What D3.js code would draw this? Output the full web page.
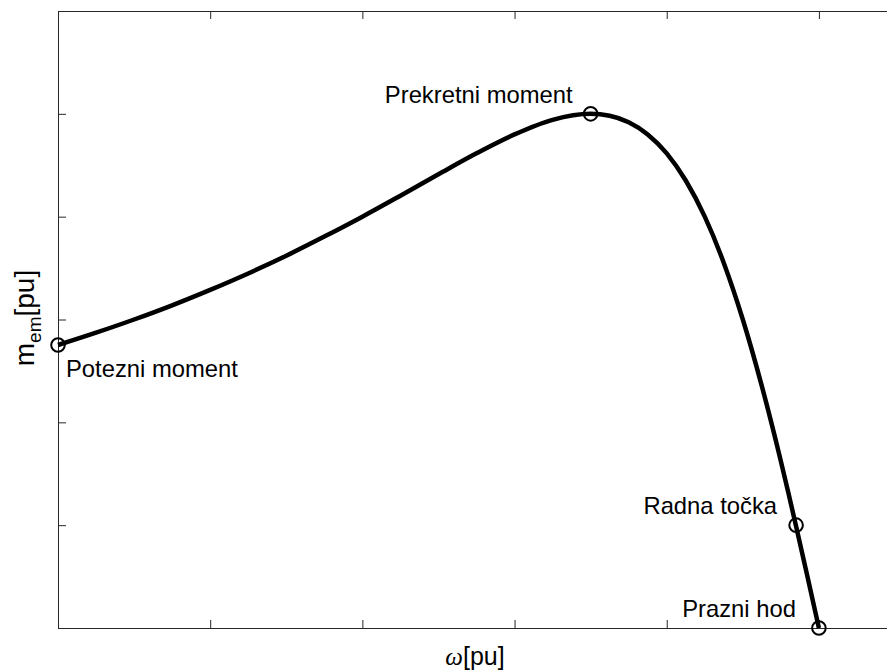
<!DOCTYPE html>
<html>
<head>
<meta charset="utf-8">
<script src="https://cdn.jsdelivr.net/npm/d3@7"></script>
<style>
  html, body { margin: 0; padding: 0; background: #fff; }
  svg { display: block; }
  text { font-family: "Liberation Sans", Arial, Helvetica, sans-serif; fill: #000; }
</style>
</head>
<body>
<svg id="chart" width="887" height="672"></svg>
<script>
// ---- data ----
const omega  = [0, 0.05, 0.1, 0.15, 0.2, 0.25, 0.3, 0.35, 0.4, 0.45, 0.5, 0.55, 0.6, 0.65, 0.7, 0.725, 0.75, 0.775, 0.8, 0.825, 0.85, 0.875, 0.9, 0.925, 0.95, 0.96, 0.97, 0.985, 1.0];
const torque = [1.376, 1.436, 1.5, 1.569, 1.644, 1.724, 1.81, 1.903, 2.0, 2.102, 2.206, 2.308, 2.4, 2.471, 2.5, 2.491, 2.459, 2.4, 2.308, 2.176, 2.0, 1.775, 1.5, 1.176, 0.811, 0.655, 0.495, 0.249, 0];
const pointNames  = ["Potezni moment", "Prekretni moment", "Radna točka", "Prazni hod"];
const pointOmega  = [0, 0.7, 0.97, 1.0];
const pointTorque = [1.376, 2.5, 0.5, 0];
const xTicks = [0, 0.2, 0.4, 0.6, 0.8, 1.0];
const yTicks = [0, 0.5, 1.0, 1.5, 2.0, 2.5, 3.0];
const xLabel = "ω";
const yLabelMain = "m";
const yLabelSub = "em";
const unitLabel = "[pu]";

// ---- layout ----
const svg = d3.select("#chart");
const L = 58, R = 895, T = 11, B = 628;
const x = d3.scaleLinear().domain([0, 1.1]).range([L, R]);
const y = d3.scaleLinear().domain([0, 3]).range([B, T]);
const tick = 8;
const axisColor = "#262626";

function styleAxis(g) {
  g.selectAll("path.domain").attr("stroke", axisColor).attr("stroke-width", 1);
  g.selectAll(".tick line").attr("stroke", axisColor).attr("stroke-width", 1);
  g.selectAll(".tick text").remove();
}

svg.append("g").attr("transform", `translate(0,${B})`)
  .call(d3.axisBottom(x).tickValues(xTicks).tickSize(-tick).tickSizeOuter(0).tickFormat(""))
  .call(styleAxis);
svg.append("g").attr("transform", `translate(0,${T})`)
  .call(d3.axisTop(x).tickValues(xTicks).tickSize(-tick).tickSizeOuter(0).tickFormat(""))
  .call(styleAxis);
svg.append("g").attr("transform", `translate(${L},0)`)
  .call(d3.axisLeft(y).tickValues(yTicks).tickSize(-tick).tickSizeOuter(0).tickFormat(""))
  .call(styleAxis);
svg.append("g").attr("transform", `translate(${R},0)`)
  .call(d3.axisRight(y).tickValues(yTicks).tickSize(-tick).tickSizeOuter(0).tickFormat(""))
  .call(styleAxis);

// ---- curve ----
const data = omega.map((w, i) => ({ w, t: torque[i] }));
const line = d3.line().x(d => x(d.w)).y(d => y(d.t)).curve(d3.curveMonotoneX);
svg.append("path").datum(data)
  .attr("d", line)
  .attr("fill", "none")
  .attr("stroke", "#000")
  .attr("stroke-width", 4.5)
  .attr("stroke-linejoin", "round");

// ---- marked points ----
const pts = pointNames.map((n, i) => ({ n, w: pointOmega[i], t: pointTorque[i] }));
svg.selectAll("circle.pt").data(pts).join("circle")
  .attr("class", "pt")
  .attr("cx", d => x(d.w)).attr("cy", d => y(d.t))
  .attr("r", 6.8)
  .attr("fill", "none")
  .attr("stroke", "#000")
  .attr("stroke-width", 2);

const labelOffsets = [[8, 32, "start"], [-18, -11, "end"], [-19, -11, "end"], [-23, -11, "end"]];
svg.selectAll("text.pl").data(pts).join("text")
  .attr("class", "pl")
  .attr("x", (d, i) => x(d.w) + labelOffsets[i][0])
  .attr("y", (d, i) => y(d.t) + labelOffsets[i][1])
  .attr("text-anchor", (d, i) => labelOffsets[i][2])
  .style("font-size", "23.8px")
  .text(d => d.n);

// ---- axis labels ----
const xl = svg.append("text")
  .attr("x", 475).attr("y", 665)
  .attr("text-anchor", "middle")
  .style("font-size", "25px");
xl.append("tspan").style("font-family", "'Liberation Serif', 'DejaVu Serif', serif").style("font-style", "italic").text(xLabel);
xl.append("tspan").text(unitLabel);

const yl = svg.append("text")
  .attr("transform", "translate(34,318) rotate(-90)")
  .attr("text-anchor", "middle")
  .style("font-size", "28px");
yl.append("tspan").text(yLabelMain);
yl.append("tspan").attr("dy", 7).style("font-size", "19px").text(yLabelSub);
yl.append("tspan").attr("dy", -7).text(unitLabel);
</script>
</body>
</html>
